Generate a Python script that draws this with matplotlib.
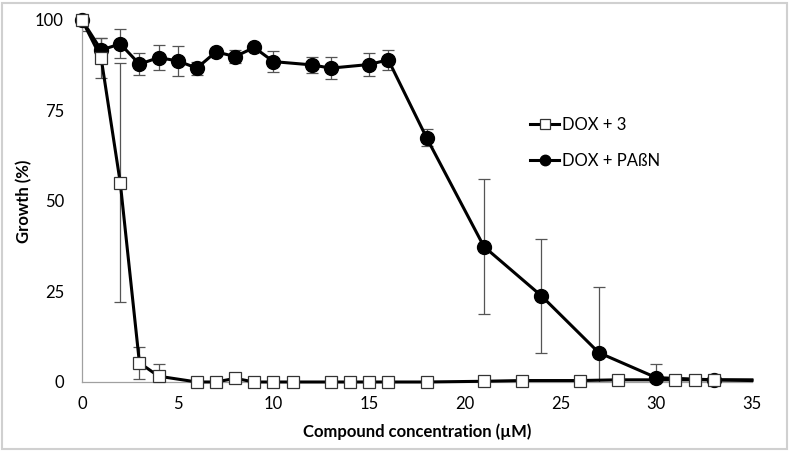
import matplotlib
matplotlib.use("Agg")
import matplotlib.pyplot as plt
from matplotlib.patches import Rectangle

# DOX + 3 (open squares)
x_dox3 = [0, 1, 2, 3, 4, 6, 7, 8, 9, 10, 11, 13, 14, 15, 16, 18, 21, 23, 26, 28, 31, 32, 33, 35]
y_dox3 = [100, 89.5, 55, 5.3, 1.6, 0, 0, 1.0, 0, 0, 0, 0, 0, 0, 0, 0, 0.2, 0.4, 0.4, 0.6, 0.6, 0.6, 0.6, 0.6]
e_dox3 = [3, 5.5, 33, 4.5, 3.4, 0, 0, 1.2, 0, 0, 0, 0, 0, 0, 0, 0, 0, 0, 0, 0, 0, 0, 0, 0]

# DOX + PAßN (filled circles)
x_pabn = [0, 1, 2, 3, 4, 5, 6, 7, 8, 9, 10, 12, 13, 15, 16, 18, 21, 24, 27, 30, 33, 35]
y_pabn = [100, 91.7, 93.4, 87.8, 89.6, 88.7, 86.7, 91.2, 89.9, 92.4, 88.5, 87.6, 86.7, 87.7, 89.0, 67.5, 37.4, 23.8, 8.1, 1.2, 0.6, 0.4]
e_pabn = [0, 3.3, 4.0, 3.0, 3.5, 4.2, 1.8, 0.5, 1.8, 0.5, 3.0, 2.3, 3.0, 3.3, 2.7, 2.3, 18.7, 15.7, 18.2, 3.7, 0.8, 0]

x_ticks = [0, 5, 10, 15, 20, 25, 30, 35]
y_ticks = [0, 25, 50, 75, 100]
x_label = "Compound concentration (\u00b5M)"
y_label = "Growth (%)"
labels = ["DOX + 3", "DOX + PA\u00dfN"]

plt.rcParams['font.family'] = ['Lato', 'DejaVu Sans']

fig = plt.figure(figsize=(7.9, 4.51), dpi=100)
ax = fig.add_axes([0.1038, 0.153, 0.848, 0.8027])

ecol = '#555555'
# error bars
ax.errorbar(x_dox3[:-1], y_dox3[:-1], yerr=e_dox3[:-1], fmt='none', ecolor=ecol,
            elinewidth=0.9, capsize=4, capthick=0.9, zorder=2, clip_on=True)
ax.errorbar(x_pabn[:-1], y_pabn[:-1], yerr=e_pabn[:-1], fmt='none', ecolor=ecol,
            elinewidth=0.9, capsize=4, capthick=0.9, zorder=2, clip_on=True)

n1 = len(x_dox3) - 1
n2 = len(x_pabn) - 1
l2, = ax.plot(x_pabn, y_pabn, color='black', lw=2.2, marker='o', markersize=10,
              markerfacecolor='black', markeredgecolor='black',
              markevery=list(range(n2)), zorder=3, clip_on=False)
l1, = ax.plot(x_dox3, y_dox3, color='black', lw=2.2, marker='s', markersize=9,
              markerfacecolor='white', markeredgecolor='#333333', markeredgewidth=0.9,
              markevery=list(range(n1)), zorder=4, clip_on=False)

ax.set_xlim(0, 35)
ax.set_ylim(0, 100)
ax.set_xticks(x_ticks)
ax.set_yticks(y_ticks)
ax.tick_params(axis='x', length=0, labelsize=12, pad=10)
ax.tick_params(axis='y', length=0, labelsize=12, pad=13)
for s in ['top', 'right']:
    ax.spines[s].set_visible(False)
for s in ['left', 'bottom']:
    ax.spines[s].set_color('#a0a0a0')
    ax.spines[s].set_linewidth(0.9)

ax.set_xlabel(x_label, fontsize=12, fontweight='bold', labelpad=8)
ax.set_ylabel(y_label, fontsize=12, fontweight='bold', labelpad=2)

leg = ax.legend([l1, l2], labels, loc='upper left', bbox_to_anchor=(0.647, 0.773),
                frameon=False, fontsize=12, handlelength=1.7, handletextpad=0.2,
                labelspacing=1.2, markerscale=0.75)

fig.patches.append(Rectangle((0.002, 0.004), 0.994, 0.99, transform=fig.transFigure,
                             fill=False, edgecolor='#d0d0d0', lw=1.5))

fig.savefig('out.png', dpi=100)
